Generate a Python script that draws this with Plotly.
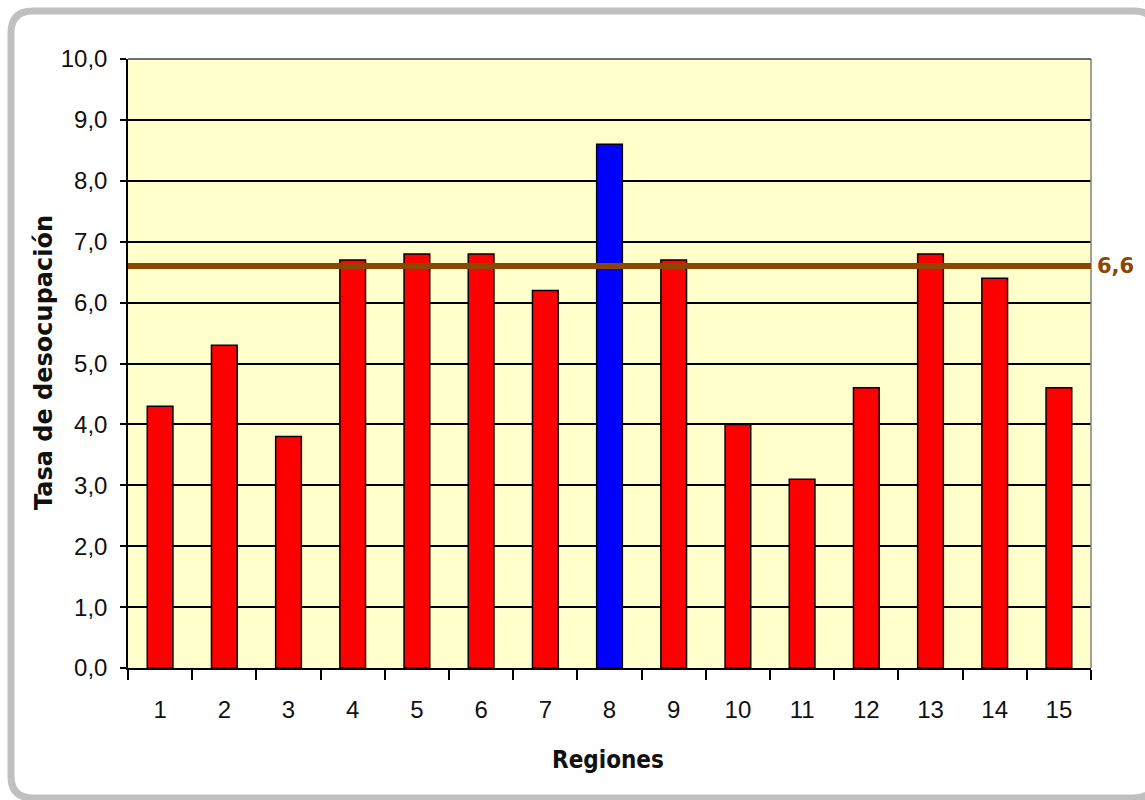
import plotly.graph_objects as go

# Unemployment rate by region
regiones = ["1", "2", "3", "4", "5", "6", "7", "8", "9", "10", "11", "12", "13", "14", "15"]
tasa = [4.3, 5.3, 3.8, 6.7, 6.8, 6.8, 6.2, 8.6, 6.7, 4.0, 3.1, 4.6, 6.8, 6.4, 4.6]
region_destacada = "8"
promedio_nacional = 6.6
etiqueta_promedio = "6,6"

W, H = 1145, 800
L, R, T, B = 128, 54, 59, 132
plot_w = W - L - R
plot_h = H - T - B

colores = ["#0000FF" if r == region_destacada else "#FF0000" for r in regiones]

tick_font = dict(family="Liberation Sans, Arial, sans-serif", size=24, color="#111111")
title_font = dict(family="DejaVu Sans, Verdana, sans-serif", size=24, color="#111111")

fig = go.Figure()
fig.add_trace(go.Bar(
    x=regiones,
    y=tasa,
    marker=dict(color=colores, line=dict(color="#000000", width=1.5)),
    hoverinfo="x+y",
))


def px_to_paper(px, py):
    return (px - L) / plot_w, (H - B - py) / plot_h


# rounded outer frame, drawn in pixel space and converted to paper coordinates
def rounded_rect_path(x0, y0, x1, y1, r):
    def P(x, y):
        xp, yp = px_to_paper(x, y)
        return f"{xp:.5f},{yp:.5f}"
    return " ".join([
        f"M {P(x0 + r, y0)}",
        f"L {P(x1 - r, y0)}",
        f"Q {P(x1, y0)} {P(x1, y0 + r)}",
        f"L {P(x1, y1 - r)}",
        f"Q {P(x1, y1)} {P(x1 - r, y1)}",
        f"L {P(x0 + r, y1)}",
        f"Q {P(x0, y1)} {P(x0, y1 - r)}",
        f"L {P(x0, y0 + r)}",
        f"Q {P(x0, y0)} {P(x0 + r, y0)} Z",
    ])


shapes = [
    dict(type="path", xref="paper", yref="paper",
         path=rounded_rect_path(11, 11, 1156, 798, 22),
         line=dict(color="#C0C0C0", width=7), layer="below"),
    # right and top edges of the plotting area
    dict(type="line", xref="paper", yref="paper", x0=1, x1=1, y0=0, y1=1,
         line=dict(color="#808080", width=1.5)),
    dict(type="line", xref="paper", yref="paper", x0=0, x1=1, y0=1, y1=1,
         line=dict(color="#404040", width=1.5)),
    # national average line
    dict(type="line", xref="paper", yref="y", x0=0, x1=1,
         y0=promedio_nacional, y1=promedio_nacional,
         line=dict(color="#8C4600", width=6), layer="above"),
]

annotations = [
    dict(text=etiqueta_promedio, xref="paper", yref="y", x=1, y=promedio_nacional,
         xanchor="left", yanchor="middle", xshift=4, showarrow=False,
         font=dict(family="DejaVu Sans, Verdana, sans-serif", size=21,
                   color="#8C4600", weight="bold")),
    dict(text="<b>Tasa de desocupación</b>", xref="paper", yref="paper",
         x=(44 - L) / plot_w, y=(H - B - 363) / plot_h, textangle=-90,
         xanchor="center", yanchor="middle", showarrow=False, font=title_font),
    dict(text="<b>Regiones</b>", xref="paper", yref="paper",
         x=(608 - L) / plot_w, y=(H - B - 760) / plot_h,
         xanchor="center", yanchor="middle", showarrow=False,
         font=dict(family="DejaVu Sans Condensed, DejaVu Sans, sans-serif", size=24,
                   color="#111111")),
]

fig.update_layout(
    width=W, height=H,
    margin=dict(l=L, r=R, t=T, b=B, autoexpand=False),
    paper_bgcolor="#FFFFFF",
    plot_bgcolor="#FFFFCC",
    separators=",.",
    bargap=0.6,
    showlegend=False,
    shapes=shapes,
    annotations=annotations,
    xaxis=dict(
        type="category",
        tickson="boundaries",
        ticks="outside", ticklen=10, tickwidth=1.5, tickcolor="#000000",
        showline=True, linecolor="#000000", linewidth=1.5,
        showgrid=False, tickfont=tick_font, ticklabelstandoff=19,
        fixedrange=True,
    ),
    yaxis=dict(
        range=[0, 10], dtick=1, tick0=0, tickformat=".1f",
        ticks="outside", ticklen=6, tickwidth=1.5, tickcolor="#000000",
        showline=True, linecolor="#000000", linewidth=1.5,
        showgrid=True, gridcolor="#000000", gridwidth=1.5,
        zeroline=False, tickfont=tick_font, ticklabelstandoff=8,
        fixedrange=True,
    ),
)

fig.write_html("out.html")
